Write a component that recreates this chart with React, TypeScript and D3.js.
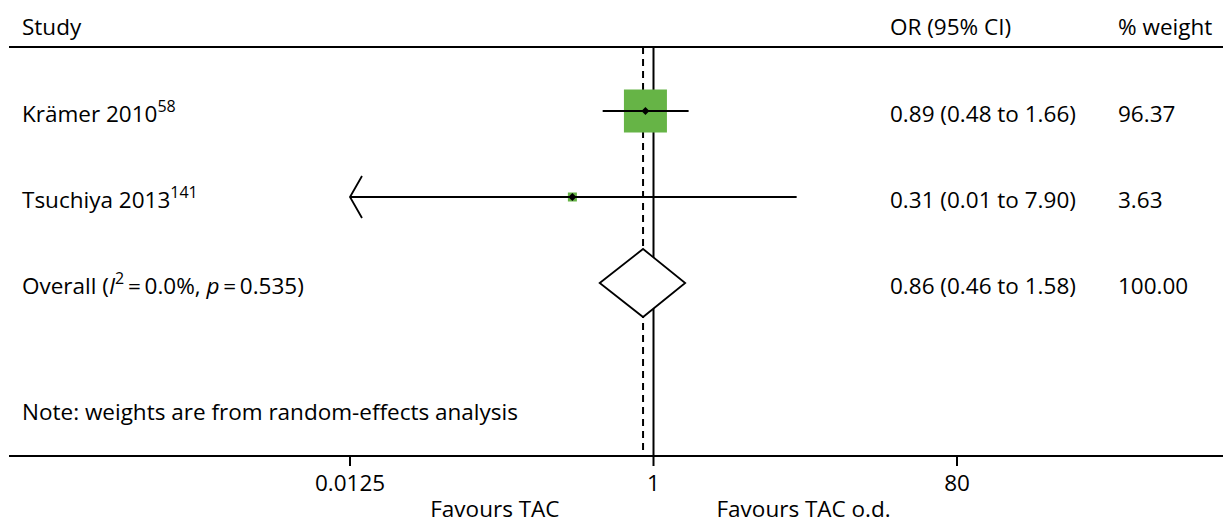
import React from 'react';
import * as d3 from 'd3';

// Study-level data
const studies = ['Krämer 2010', 'Tsuchiya 2013'];
const refs = ['58', '141'];
const orValues = [0.89, 0.31];
const ciLow = [0.48, 0.01];
const ciHigh = [1.66, 7.9];
const weights = [96.37, 3.63];
const orLabels = ['0.89 (0.48 to 1.66)', '0.31 (0.01 to 7.90)'];
const weightLabels = ['96.37', '3.63'];

// Pooled estimate
const overall = [0.86, 0.46, 1.58];
const overallLabel = '0.86 (0.46 to 1.58)';
const overallWeight = '100.00';

const tickValues = [0.0125, 1, 80];
const tickLabels = ['0.0125', '1', '80'];

const W = 1232;
const H = 525;
const FONT = '"Open Sans", "Noto Sans", sans-serif';

const App: React.FC = () => {
  const x = d3.scaleLog().domain([0.0125, 80]).range([350, 957]);
  const rowY = d3.scalePoint<number>().domain([0, 1, 2]).range([111, 283]);
  const axisY = 456;
  const topY = 47;
  const maxBox = 43;
  const boxSize = (w: number) => Math.max(9, maxBox * Math.sqrt(w / d3.max(weights)!));
  const [xMin] = x.domain();
  const green = '#66b446';
  const fs = 22.5;
  const sup = 16;

  return <svg width={W} height={H} style={{ position: 'absolute', left: 0, top: 0, fontFamily: FONT }}>
      <rect width={W} height={H} fill="white" />
      {/* header */}
      <text x={22} y={35} fontSize={fs}>Study</text>
      <text x={890} y={35} fontSize={fs}>OR (95% CI)</text>
      <text x={1118} y={35} fontSize={fs}>% weight</text>
      <line x1={9} x2={1223} y1={topY} y2={topY} stroke="black" strokeWidth={2} />

      {/* reference line at 1 and dashed overall line */}
      <line x1={x(1)} x2={x(1)} y1={topY} y2={axisY} stroke="black" strokeWidth={2} />
      <line x1={x(overall[0])} x2={x(overall[0])} y1={topY} y2={axisY} stroke="black" strokeWidth={2} strokeDasharray="7,5" />

      {studies.map((s, i) => {
        const y = rowY(i)!;
        const b = boxSize(weights[i]);
        const clipped = ciLow[i] < xMin;
        const lx = x(Math.max(ciLow[i], xMin));
        const cx = x(orValues[i]);
        return <g key={s}>
            <rect x={cx - b / 2} y={y - b / 2} width={b} height={b} fill={green} />
            <line x1={lx} x2={x(ciHigh[i])} y1={y} y2={y} stroke="black" strokeWidth={1.8} />
            {clipped && <polyline points={`${lx + 12},${y - 21} ${lx},${y} ${lx + 12},${y + 21}`} fill="none" stroke="black" strokeWidth={1.8} />}
            <path d={`M${cx - 4},${y} L${cx},${y - 4} L${cx + 4},${y} L${cx},${y + 4} Z`} fill="black" />
            <text x={22} y={y + 11} fontSize={fs}>
              {s}<tspan fontSize={sup} dy={-10}>{refs[i]}</tspan>
            </text>
            <text x={890} y={y + 11} fontSize={fs}>{orLabels[i]}</text>
            <text x={1118} y={y + 11} fontSize={fs}>{weightLabels[i]}</text>
          </g>;
      })}

      {/* overall diamond */}
      {(() => {
        const y = rowY(2)!;
        const h = 34;
        return <g>
            <path d={`M${x(overall[1])},${y} L${x(overall[0])},${y - h} L${x(overall[2])},${y} L${x(overall[0])},${y + h} Z`} fill="white" stroke="black" strokeWidth={1.8} />
            <text x={22} y={y + 11} fontSize={fs}>
              Overall (<tspan fontStyle="italic">I</tspan><tspan fontSize={sup} dy={-10}>2</tspan><tspan dy={10}>{'\u2009=\u20090.0%, '}</tspan><tspan fontStyle="italic">p</tspan>{'\u2009=\u20090.535)'}
            </text>
            <text x={890} y={y + 11} fontSize={fs}>{overallLabel}</text>
            <text x={1118} y={y + 11} fontSize={fs}>{overallWeight}</text>
          </g>;
      })()}

      <text x={22} y={420} fontSize={fs}>Note: weights are from random-effects analysis</text>

      {/* x axis */}
      <line x1={9} x2={1223} y1={axisY} y2={axisY} stroke="black" strokeWidth={2} />
      {tickValues.map((t, i) => <g key={t}>
          <line x1={x(t)} x2={x(t)} y1={axisY} y2={axisY + 10} stroke="black" strokeWidth={2} />
          <text x={x(t)} y={491} fontSize={fs} textAnchor="middle">{tickLabels[i]}</text>
        </g>)}
      <text x={x(1) - 94} y={517} fontSize={fs} textAnchor="end">Favours TAC</text>
      <text x={x(1) + 63} y={517} fontSize={fs}>Favours TAC o.d.</text>
    </svg>;
};

export default App;
